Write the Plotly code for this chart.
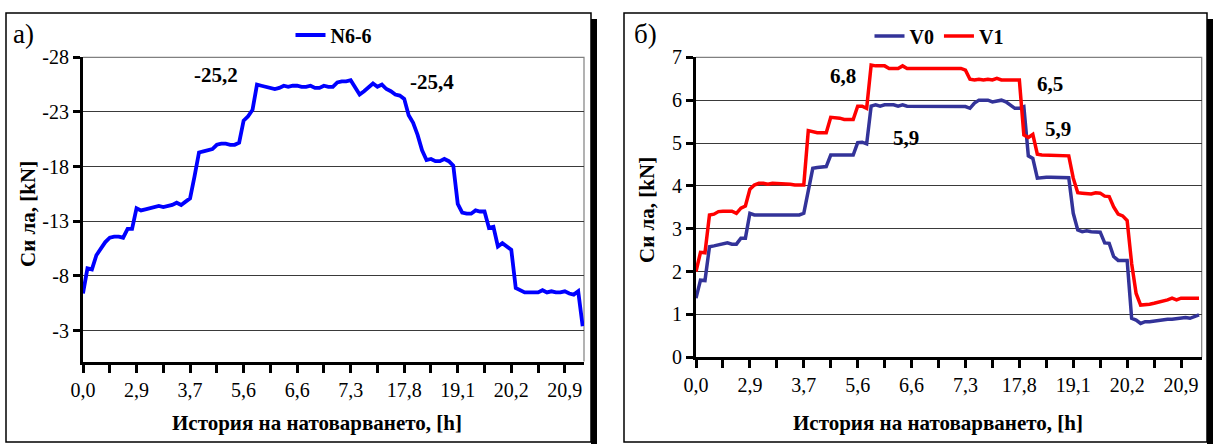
import plotly.graph_objects as go

W, H = 1214, 444

# ---------------- data ----------------
x_labels = ["0,0", "2,9", "3,7", "5,6", "6,6", "7,3", "17,8", "19,1", "20,2", "20,9"]

n66 = [-6.4, -8.7, -8.6, -9.9, -10.5, -11.1, -11.5, -11.6, -11.6, -11.5,
       -12.3, -12.3, -14.2, -14.0, -14.1, -14.2, -14.3, -14.4, -14.3, -14.4,
       -14.5, -14.7, -14.5, -14.8, -15.1, -17.1, -19.3, -19.4, -19.5, -19.6,
       -20.0, -20.1, -20.1, -20.0, -20.0, -20.2, -22.2, -22.6, -23.2, -25.5,
       -25.4, -25.3, -25.2, -25.1, -25.2, -25.4, -25.3, -25.4, -25.4, -25.3,
       -25.3, -25.4, -25.2, -25.2, -25.4, -25.3, -25.3, -25.7, -25.8, -25.8,
       -25.9, -25.3, -24.6, -24.9, -25.2, -25.6, -25.3, -25.5, -25.1, -24.9,
       -24.6, -24.5, -24.2, -22.7, -22.0, -20.9, -19.5, -18.6, -18.7, -18.5,
       -18.5, -18.7, -18.5, -18.1, -14.6, -13.8, -13.7, -13.7, -14.0, -13.9,
       -13.9, -12.4, -12.5, -10.7, -11.0, -10.7, -10.4, -6.9, -6.7, -6.5,
       -6.5, -6.5, -6.5, -6.7, -6.5, -6.6, -6.5, -6.5, -6.6, -6.4,
       -6.3, -6.6, -3.4]

v0 = [1.38, 1.80, 1.79, 2.58, 2.60, 2.62, 2.64, 2.67, 2.64, 2.64,
      2.78, 2.78, 3.36, 3.32, 3.32, 3.32, 3.32, 3.32, 3.32, 3.32,
      3.32, 3.32, 3.32, 3.32, 3.36, 3.90, 4.41, 4.43, 4.45, 4.45,
      4.72, 4.72, 4.72, 4.72, 4.72, 4.72, 5.01, 5.02, 4.98, 5.86,
      5.89, 5.86, 5.89, 5.89, 5.89, 5.86, 5.89, 5.86, 5.86, 5.85,
      5.85, 5.85, 5.85, 5.85, 5.85, 5.85, 5.85, 5.85, 5.85, 5.85,
      5.85, 5.81, 5.93, 6.00, 6.00, 6.00, 5.96, 5.99, 6.00, 5.96,
      5.89, 5.81, 5.81, 5.85, 4.70, 4.64, 4.18, 4.20, 4.20, 4.20,
      4.20, 4.20, 4.20, 4.19, 3.36, 2.97, 2.93, 2.95, 2.93, 2.92,
      2.92, 2.67, 2.66, 2.35, 2.26, 2.26, 2.26, 0.91, 0.87, 0.79,
      0.83, 0.83, 0.85, 0.87, 0.89, 0.89, 0.89, 0.91, 0.91, 0.93,
      0.91, 0.95, 0.99]

v1 = [2.00, 2.45, 2.44, 3.32, 3.34, 3.40, 3.41, 3.41, 3.41, 3.36,
      3.48, 3.53, 3.92, 4.02, 4.06, 4.06, 4.04, 4.06, 4.06, 4.06,
      4.06, 4.04, 4.02, 4.02, 4.02, 5.29, 5.26, 5.24, 5.24, 5.24,
      5.60, 5.60, 5.58, 5.55, 5.55, 5.55, 5.86, 5.86, 5.81, 6.82,
      6.80, 6.80, 6.80, 6.74, 6.73, 6.74, 6.80, 6.74, 6.74, 6.74,
      6.74, 6.74, 6.74, 6.74, 6.74, 6.74, 6.74, 6.74, 6.74, 6.74,
      6.70, 6.49, 6.47, 6.49, 6.47, 6.49, 6.47, 6.51, 6.47, 6.47,
      6.47, 6.47, 6.47, 5.19, 5.13, 5.20, 4.74, 4.72, 4.72, 4.72,
      4.72, 4.72, 4.72, 4.70, 4.18, 3.84, 3.83, 3.83, 3.81, 3.84,
      3.83, 3.76, 3.75, 3.51, 3.34, 3.30, 3.19, 2.19, 1.49, 1.22,
      1.22, 1.24, 1.26, 1.28, 1.30, 1.34, 1.38, 1.34, 1.38, 1.38,
      1.38, 1.38, 1.38]

left_yticks = [-28, -23, -18, -13, -8, -3]
right_yticks = [0, 1, 2, 3, 4, 5, 6, 7]

peak_labels_left = [("-25,2", 29.8, -26.4), ("-25,4", 78.3, -25.75)]
peak_labels_right = [("6,8", 32.7, 6.57), ("5,9", 46.8, 5.12),
                     ("6,5", 78.8, 6.38), ("5,9", 80.6, 5.33)]

# ---------------- figure ----------------
FONT = "Liberation Serif"
idx = list(range(len(n66)))
tick_step = 6
tickvals = list(range(0, 109, tick_step))
ticktext = []
for k in range(len(tickvals)):
    ticktext.append(x_labels[k // 2] if k % 2 == 0 else "")


def px(x):
    return x / W


def py(y):
    return 1 - y / H


fig = go.Figure()
fig.add_trace(go.Scatter(x=idx, y=n66, mode="lines", name="<b>N6-6</b>",
                         line=dict(color="#0000FF", width=3.8), showlegend=True,
                         xaxis="x", yaxis="y", legend="legend"))
fig.add_trace(go.Scatter(x=list(range(len(v0))), y=v0, mode="lines", name="<b>V0</b>",
                         line=dict(color="#333399", width=3.5), showlegend=True,
                         xaxis="x2", yaxis="y2", legend="legend2"))
fig.add_trace(go.Scatter(x=list(range(len(v1))), y=v1, mode="lines", name="<b>V1</b>",
                         line=dict(color="#FF0000", width=3.5), showlegend=True,
                         xaxis="x2", yaxis="y2", legend="legend2"))

xcommon = dict(tickmode="array", tickvals=tickvals, ticktext=ticktext,
               ticks="outside", ticklen=8, tickwidth=3, tickcolor="black",
               showline=True, linewidth=3, linecolor="black",
               showgrid=False, zeroline=False, automargin=False,
               tickfont=dict(family=FONT, size=20, color="black"))
ycommon = dict(ticks="outside", ticklen=7, tickwidth=3, tickcolor="black",
               showline=True, linewidth=3, linecolor="black",
               showgrid=True, gridcolor="#3a3a3a", gridwidth=1, zeroline=False,
               automargin=False,
               tickfont=dict(family=FONT, size=20, color="black"))

fig.update_layout(
    width=W, height=H, showlegend=True,
    margin=dict(l=0, r=0, t=0, b=0, autoexpand=False),
    paper_bgcolor="white", plot_bgcolor="white",
    font=dict(family=FONT, color="black"),
    xaxis=dict(domain=[px(83), px(584)], range=[0, 112.3], anchor="y", **xcommon),
    yaxis=dict(domain=[py(361.5), py(57.3)], range=[-0.18, -28], anchor="x",
               tickvals=left_yticks, ticktext=[str(v) for v in left_yticks], **ycommon),
    xaxis2=dict(domain=[px(696), px(1201.7)], range=[0, 112.6], anchor="y2", **xcommon),
    yaxis2=dict(domain=[py(357.3), py(57.3)], range=[0, 7], anchor="x2",
                tickvals=right_yticks, **ycommon),
    legend=dict(orientation="h", x=px(334), y=py(35), xanchor="center", yanchor="middle",
                font=dict(family=FONT, size=20, color="black"),
                bgcolor="rgba(0,0,0,0)", visible=True),
    legend2=dict(orientation="h", x=px(939), y=py(36), xanchor="center", yanchor="middle",
                 font=dict(family=FONT, size=20, color="black"),
                 bgcolor="rgba(0,0,0,0)", visible=True),
)

shapes = []
# panel frames and shadows
for (x0, x1) in [(6, 591), (624, 1207)]:
    shapes.append(dict(type="rect", xref="paper", yref="paper",
                       x0=px(x0), x1=px(x1), y0=py(442), y1=py(13),
                       line=dict(color="black", width=1.5), layer="below"))
    shapes.append(dict(type="rect", xref="paper", yref="paper",
                       x0=px(x1), x1=px(x1 + 6), y0=py(444), y1=py(19),
                       line=dict(width=0), fillcolor="black", layer="below"))
# plot area borders (top and right edges)
for (xa, xb, ya, yb) in [(83, 584, 57.3, 361.5), (696, 1201.7, 57.3, 357.3)]:
    shapes.append(dict(type="path", xref="paper", yref="paper",
                       path="M %f,%f L %f,%f L %f,%f" % (px(xa), py(ya), px(xb), py(ya), px(xb), py(yb)),
                       line=dict(color="#808080", width=1.2), layer="below"))
fig.update_layout(shapes=shapes)

ann = []
for txt, xi, yv in peak_labels_left:
    ann.append(dict(text="<b>%s</b>" % txt, x=xi, y=yv, xref="x", yref="y",
                    showarrow=False, font=dict(family=FONT, size=21, color="black")))
for txt, xi, yv in peak_labels_right:
    ann.append(dict(text="<b>%s</b>" % txt, x=xi, y=yv, xref="x2", yref="y2",
                    showarrow=False, font=dict(family=FONT, size=21, color="black")))
# axis titles
for xc in (317, 938):
    ann.append(dict(text="<b>История на натоварването, [h]</b>", x=px(xc), y=py(423),
                    xref="paper", yref="paper", xanchor="center", yanchor="middle",
                    showarrow=False, font=dict(family=FONT, size=21, color="black")))
for xc, yc in ((28, 214), (647, 210)):
    ann.append(dict(text="<b>Си ла, [kN]</b>", x=px(xc), y=py(yc), textangle=-90,
                    xref="paper", yref="paper", xanchor="center", yanchor="middle",
                    showarrow=False, font=dict(family=FONT, size=21, color="black")))
# panel labels
ann.append(dict(text="а)", x=px(24), y=py(34), xref="paper", yref="paper",
                xanchor="center", yanchor="middle",
                showarrow=False, font=dict(family=FONT, size=27, color="black")))
ann.append(dict(text="б)", x=px(645), y=py(34), xref="paper", yref="paper",
                xanchor="center", yanchor="middle",
                showarrow=False, font=dict(family=FONT, size=27, color="black")))
fig.update_layout(annotations=ann)

fig.write_html("out.html", config={"displayModeBar": False},
               post_script="document.body.style.margin='0';document.body.style.overflow='hidden';")
